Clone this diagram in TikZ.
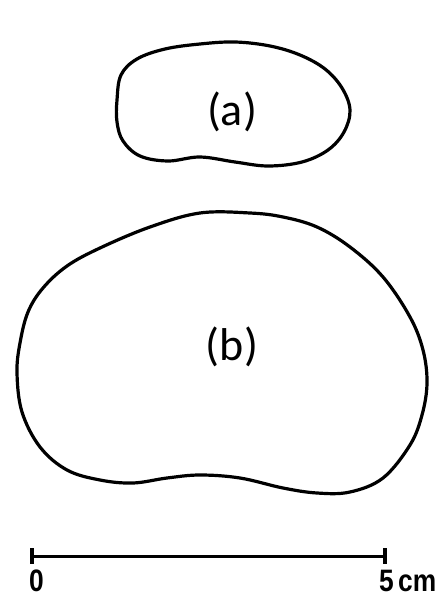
\documentclass[tikz,border=0pt]{standalone}
\usepackage{fontspec}
\setmainfont{Carlito}
\newfontfamily\barfont{Liberation Sans}
\usetikzlibrary{arrows, math}

\begin{document}
\begin{tikzpicture}[x=1pt, y=-1pt,
  outline/.style={line width=3.2pt, line join=round},
  tag/.style={font=\fontsize{46}{50}\selectfont},
  barlabel/.style={font=\barfont\bfseries\fontsize{31}{33}\selectfont, xscale=0.85}]
\tikzmath{
\barL=32;
\barR=385;
\barY=556;
}
\useasboundingbox (0,0) rectangle (445,601);

% small piece
\draw[outline] plot[smooth cycle, tension=0.6] coordinates {
(117,100) (121,75) (137,59) (165,49) (200,44) (235,42) (270,46) (300,55)
(325,69) (342,88) (350,110) (344,132) (328,150) (302,162) (268,166)
(235,162) (200,157) (168,161) (140,156) (123,141) (117,122)};
\node[tag] (a) at (232,112) {(a)};

% large piece
\draw[outline] plot[smooth cycle, tension=0.6] coordinates {
(17,373) (20,343) (28,312) (43,288) (67,266) (100,248) (150,227) (200,213)
(250,213) (283,217) (317,227) (350,247) (383,277) (410,317) (423,350)
(427,383) (422,415) (410,445) (383,478) (350,492) (317,493) (283,488)
(240,478) (200,475) (167,478) (133,483) (100,480) (67,470) (40,447)
(22,412)};
\node[tag] (b) at (232,347) {(b)};

% scale bar
\coordinate (s0) at (\barL,\barY);
\coordinate (s5) at (\barR,\barY);
\draw[line width=3pt] (s0) -- (s5);
\draw[line width=3.4pt] (\barL,\barY-8) -- (\barL,\barY+8);
\draw[line width=3.4pt] (\barR,\barY-8) -- (\barR,\barY+8);
\node[barlabel, anchor=north west, inner sep=0pt] (zero) at (\barL-3,\barY+14) {0};
\node[barlabel, anchor=north west, inner sep=0pt] (five) at (\barR-6,\barY+14) {5\,cm};
\end{tikzpicture}
\end{document}
